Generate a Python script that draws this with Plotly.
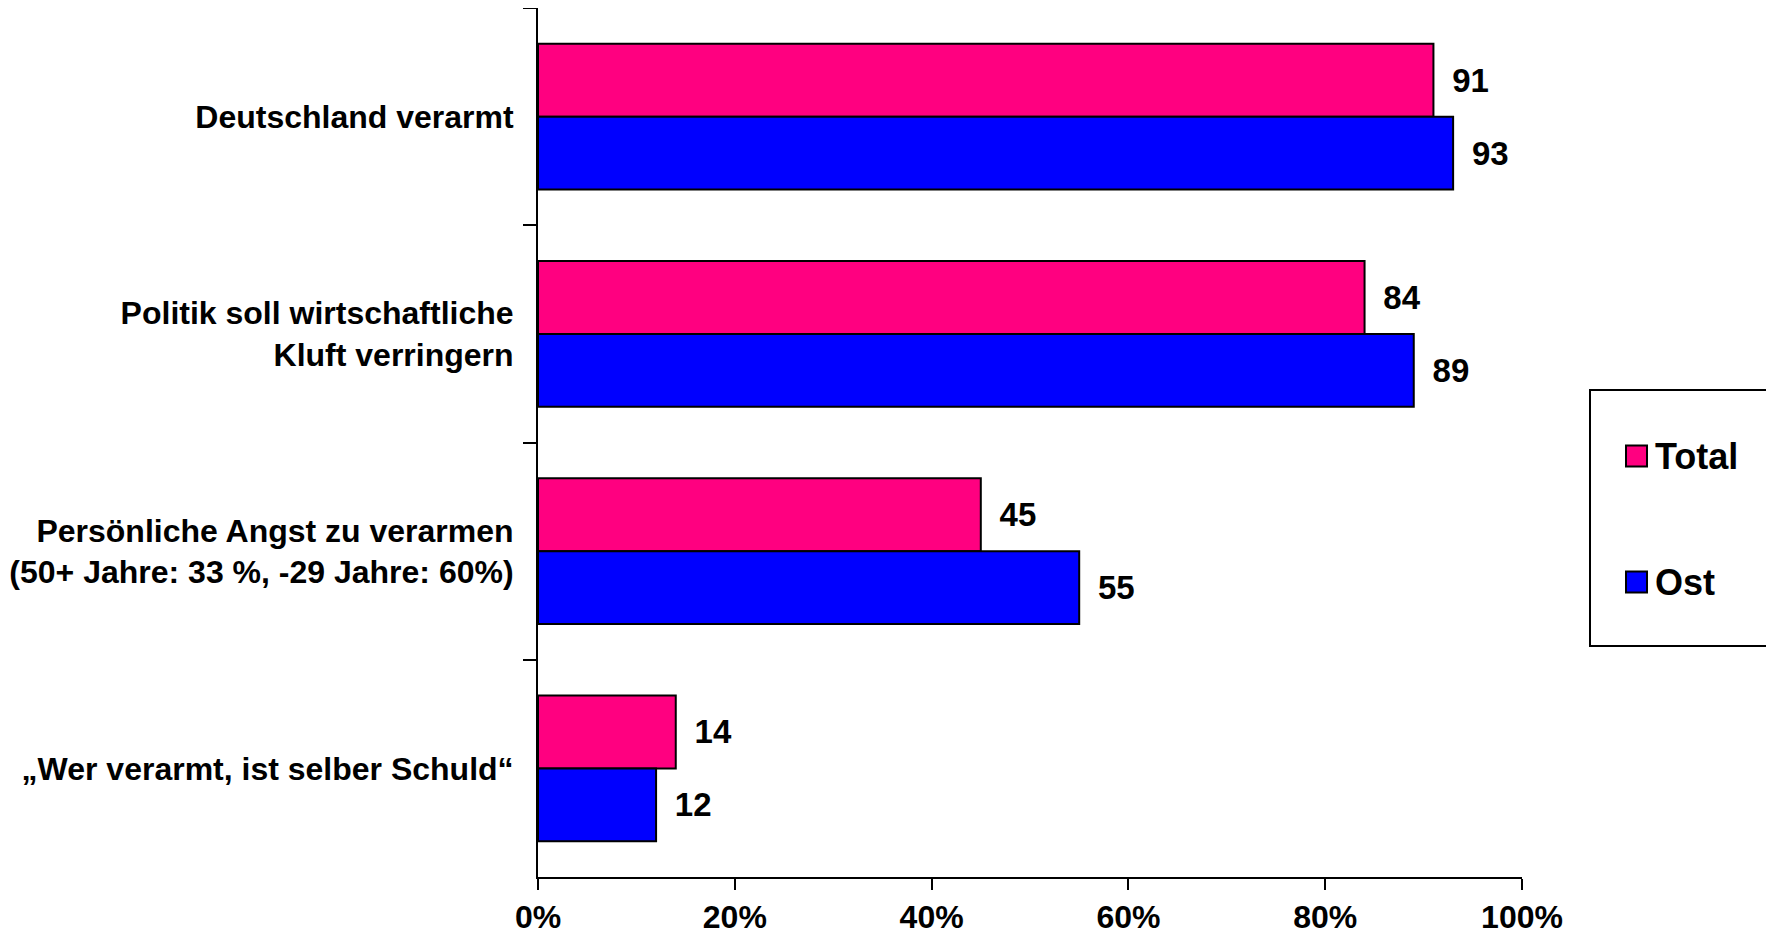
import plotly.graph_objects as go

categories = [
    "Deutschland verarmt",
    "Politik soll wirtschaftliche<br>Kluft verringern",
    "Persönliche Angst zu verarmen<br>(50+ Jahre: 33 %, -29 Jahre: 60%)",
    "„Wer verarmt, ist selber Schuld“",
]
total_values = [91, 84, 45, 14]
ost_values = [93, 89, 55, 12]
series_names = ["Total", "Ost"]
x_tickvals = [0, 20, 40, 60, 80, 100]
x_ticktext = ["0%", "20%", "40%", "60%", "80%", "100%"]

PINK = "#FF0080"
BLUE = "#0000FF"
FONT = "Liberation Sans, Arial, sans-serif"

# page offset (body margin of the html page)
OFF = 8
PL, PR, PT, PB = 538, 1522, 7, 877  # plot area in page pixels

fig = go.Figure()
for name, vals, col in [(series_names[0], total_values, PINK), (series_names[1], ost_values, BLUE)]:
    fig.add_trace(go.Bar(
        y=categories, x=vals, orientation="h", name=name,
        marker=dict(color=col, line=dict(color="black", width=2)),
        text=vals, texttemplate="\u00a0\u2009%{x}", textposition="outside",
        textfont=dict(family=FONT, size=33, color="black", weight="bold"),
        cliponaxis=False, showlegend=False,
    ))

W, H = 1774, 944
fig.update_layout(
    template="none",
    width=W, height=H,
    margin=dict(l=PL - OFF, r=W - (PR - OFF), t=max(PT - OFF, 0), b=H - (PB - OFF), pad=0, autoexpand=False),
    barmode="group", bargap=0.33, bargroupgap=0,
    plot_bgcolor="white", paper_bgcolor="white",
    font=dict(family=FONT, size=32, color="black"),
    xaxis=dict(
        range=[0, 100], tickvals=x_tickvals, ticktext=x_ticktext, automargin=False,
        showgrid=False, zeroline=False, showline=True, linecolor="black", linewidth=2,
        ticks="outside", ticklen=11, tickwidth=2, tickcolor="black",
        tickfont=dict(family=FONT, size=32, color="black", weight="bold"),
        ticklabelstandoff=0,
    ),
    yaxis=dict(
        autorange="reversed", showgrid=False, zeroline=False, automargin=False,
        showline=True, linecolor="black", linewidth=2,
        ticks="outside", tickson="boundaries", ticklen=13, tickwidth=2, tickcolor="black",
        tickfont=dict(family=FONT, size=32, color="black", weight="bold"),
        ticklabelstandoff=16,
    ),
)

# manual legend (page pixel positions -> paper coords)
top_page = max(PT, OFF)
pw = PR - PL
def px(xpx):
    return (xpx - PL) / pw
def py(ypx):
    return (PB - ypx) / (PB - top_page)

fig.add_shape(type="rect", xref="paper", yref="paper", x0=px(1590), x1=px(1769), y0=py(646), y1=py(390),
              line=dict(color="black", width=2), fillcolor="rgba(0,0,0,0)")
for name, col, yc in [(series_names[0], PINK, 456), (series_names[1], BLUE, 582)]:
    fig.add_shape(type="rect", xref="paper", yref="paper",
                  x0=px(1626), x1=px(1647), y0=py(yc + 10.5), y1=py(yc - 10.5),
                  line=dict(color="black", width=2), fillcolor=col)
    fig.add_annotation(xref="paper", yref="paper", x=px(1653), y=py(yc),
                       text=name, showarrow=False, xanchor="left", yanchor="middle",
                       font=dict(family=FONT, size=36, color="black", weight="bold"))

fig.write_html("out.html")
